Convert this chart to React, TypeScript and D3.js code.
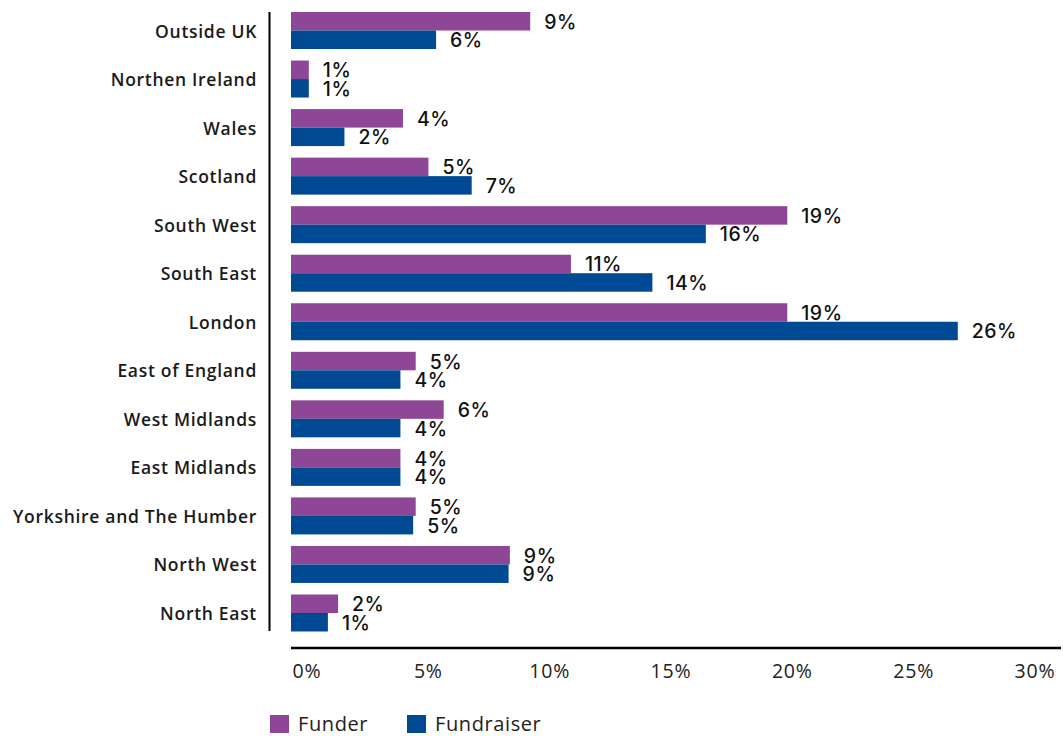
import React from "react";
import * as d3 from "d3";

const categories = [
  "Outside UK",
  "Northen Ireland",
  "Wales",
  "Scotland",
  "South West",
  "South East",
  "London",
  "East of England",
  "West Midlands",
  "East Midlands",
  "Yorkshire and The Humber",
  "North West",
  "North East",
];
const funder = [9.4, 0.7, 4.4, 5.4, 19.5, 11.0, 19.5, 4.9, 6.0, 4.3, 4.9, 8.6, 1.85];
const fundraiser = [5.7, 0.7, 2.1, 7.1, 16.3, 14.2, 26.2, 4.3, 4.3, 4.3, 4.8, 8.55, 1.45];
const funderLabels = ["9%", "1%", "4%", "5%", "19%", "11%", "19%", "5%", "6%", "4%", "5%", "9%", "2%"];
const fundraiserLabels = ["6%", "1%", "2%", "7%", "16%", "14%", "26%", "4%", "4%", "4%", "5%", "9%", "1%"];
const ticks = [0, 5, 10, 15, 20, 25, 30];
const seriesNames = ["Funder", "Fundraiser"];
const colors = ["#8E4796", "#004A93"];

const W = 1063;
const H = 736;
const FONT = "'Open Sans', Inter, sans-serif";

export default function App() {
  const x = d3.scaleLinear().domain([0, 30]).range([291, 291 + 30 * 25.45]);
  const xTick = d3.scaleLinear().domain([0, 30]).range([307, 1035]);
  const y = d3
    .scaleBand<string>()
    .domain(categories)
    .range([6.23, 637.27])
    .paddingInner(0.238)
    .paddingOuter(0.119);
  const ySub = d3.scaleBand<string>().domain(seriesNames).range([0, y.bandwidth()]);
  const series = [
    { name: "Funder", values: funder, labels: funderLabels, color: colors[0] },
    { name: "Fundraiser", values: fundraiser, labels: fundraiserLabels, color: colors[1] },
  ];

  return (
    <svg width={W} height={H} style={{ position: "absolute", left: 0, top: 0 }} fontFamily={FONT}>
      {categories.map((c) => (
        <text
          key={c}
          x={257}
          y={(y(c) ?? 0) + y.bandwidth() / 2}
          textAnchor="end"
          dominantBaseline="central"
          fontSize={17.5}
          fontWeight={600}
          letterSpacing={0.7}
          fill="#1a1a1a"
        >
          {c}
        </text>
      ))}
      {series.map((s) =>
        categories.map((c, i) => {
          const by = (y(c) ?? 0) + (ySub(s.name) ?? 0);
          const bh = ySub.bandwidth();
          return (
            <g key={s.name + c}>
              <rect x={x(0)} y={by} width={x(s.values[i]) - x(0)} height={bh} fill={s.color} />
              <text
                x={x(s.values[i]) + 14}
                y={by + bh / 2 + 0.5}
                dominantBaseline="central"
                fontFamily="Inter, sans-serif"
                fontSize={19.5}
                fontWeight={500}
                letterSpacing={0.5}
                fill="#111"
              >
                {s.labels[i]}
              </text>
            </g>
          );
        })
      )}
      <line x1={269.5} x2={269.5} y1={12} y2={631} stroke="#000" strokeWidth={2} />
      <line x1={291} x2={1061} y1={648} y2={648} stroke="#000" strokeWidth={2.5} />
      {ticks.map((t) => (
        <text
          key={t}
          x={xTick(t)}
          y={678}
          textAnchor="middle"
          fontSize={19.5}
          letterSpacing={0.8}
          fill="#222"
        >
          {t}%
        </text>
      ))}
      {series.map((s, i) => {
        const lx = [270, 407][i];
        return (
          <g key={"leg" + s.name}>
            <rect x={lx} y={715} width={19} height={18} fill={s.color} />
            <text x={lx + 28} y={731} fontSize={20} letterSpacing={0.6} fill="#222">
              {s.name}
            </text>
          </g>
        );
      })}
    </svg>
  );
}
